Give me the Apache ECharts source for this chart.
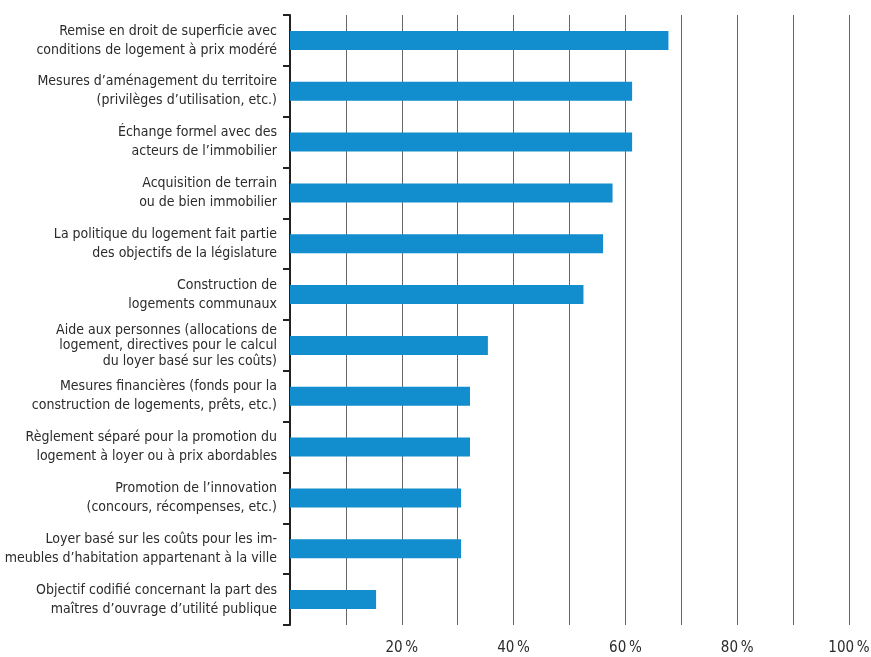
<!DOCTYPE html>
<html>
<head>
<meta charset="utf-8">
<script src="https://cdn.jsdelivr.net/npm/echarts@6/dist/echarts.min.js"></script>
<style>
html,body{margin:0;padding:0;background:#fff;}
#chart{width:871px;height:657px;}
</style>
</head>
<body>
<div id="chart"></div>
<script>
const categories = [
  "Remise en droit de superficie avec\nconditions de logement à prix modéré",
  "Mesures d’aménagement du territoire\n(privilèges d’utilisation, etc.)",
  "Échange formel avec des\nacteurs de l’immobilier",
  "Acquisition de terrain\nou de bien immobilier",
  "La politique du logement fait partie\ndes objectifs de la législature",
  "Construction de\nlogements communaux",
  "Aide aux personnes (allocations de\nlogement, directives pour le calcul\ndu loyer basé sur les coûts)",
  "Mesures financières (fonds pour la\nconstruction de logements, prêts, etc.)",
  "Règlement séparé pour la promotion du\nlogement à loyer ou à prix abordables",
  "Promotion de l’innovation\n(concours, récompenses, etc.)",
  "Loyer basé sur les coûts pour les im-\nmeubles d’habitation appartenant à la ville",
  "Objectif codifié concernant la part des\nmaîtres d’ouvrage d’utilité publique"
];
const values = [67.7, 61.2, 61.2, 57.7, 56.0, 52.5, 35.4, 32.2, 32.2, 30.6, 30.6, 15.4];
const tickLabels = {20: "20\u2009%", 40: "40\u2009%", 60: "60\u2009%", 80: "80\u2009%", 100: "100\u2009%"};

const FONT = '"Liberation Sans Narrow", "DejaVu Sans Condensed", "Roboto Condensed", "Arial Narrow", sans-serif';
const chart = echarts.init(document.getElementById('chart'));
chart.setOption({
  animation: false,
  backgroundColor: '#fff',
  grid: {left: 290, right: 22, top: 15, bottom: 32, containLabel: false, outerBoundsMode: 'none'},
  xAxis: {
    type: 'value', min: 0, max: 100, interval: 10,
    axisLine: {show: false}, axisTick: {show: false},
    splitLine: {show: true, lineStyle: {color: '#666', width: 1}},
    axisLabel: {
      margin: 16, color: '#2b2b2b', fontSize: 15, fontFamily: FONT,
      formatter: v => tickLabels[v] || ''
    }
  },
  yAxis: {
    type: 'category', data: categories, inverse: true,
    axisLine: {show: true, lineStyle: {color: '#222', width: 2}},
    axisTick: {show: true, inside: false, length: 7, alignWithLabel: false, lineStyle: {color: '#222', width: 2}},
    axisLabel: {
      margin: 13, color: '#2b2b2b', fontSize: 14, fontFamily: FONT, lineHeight: 19, align: 'right',
      formatter: v => v.split('\n').length > 2 ? '{t|' + v + '}' : v,
      rich: {t: {fontSize: 14, fontFamily: FONT, color: '#2b2b2b', lineHeight: 15.5, align: 'right'}}
    }
  },
  series: [{
    type: 'bar', data: values, barWidth: 19,
    itemStyle: {color: '#128dcd'},
    z: 3
  }]
});
</script>
</body>
</html>
